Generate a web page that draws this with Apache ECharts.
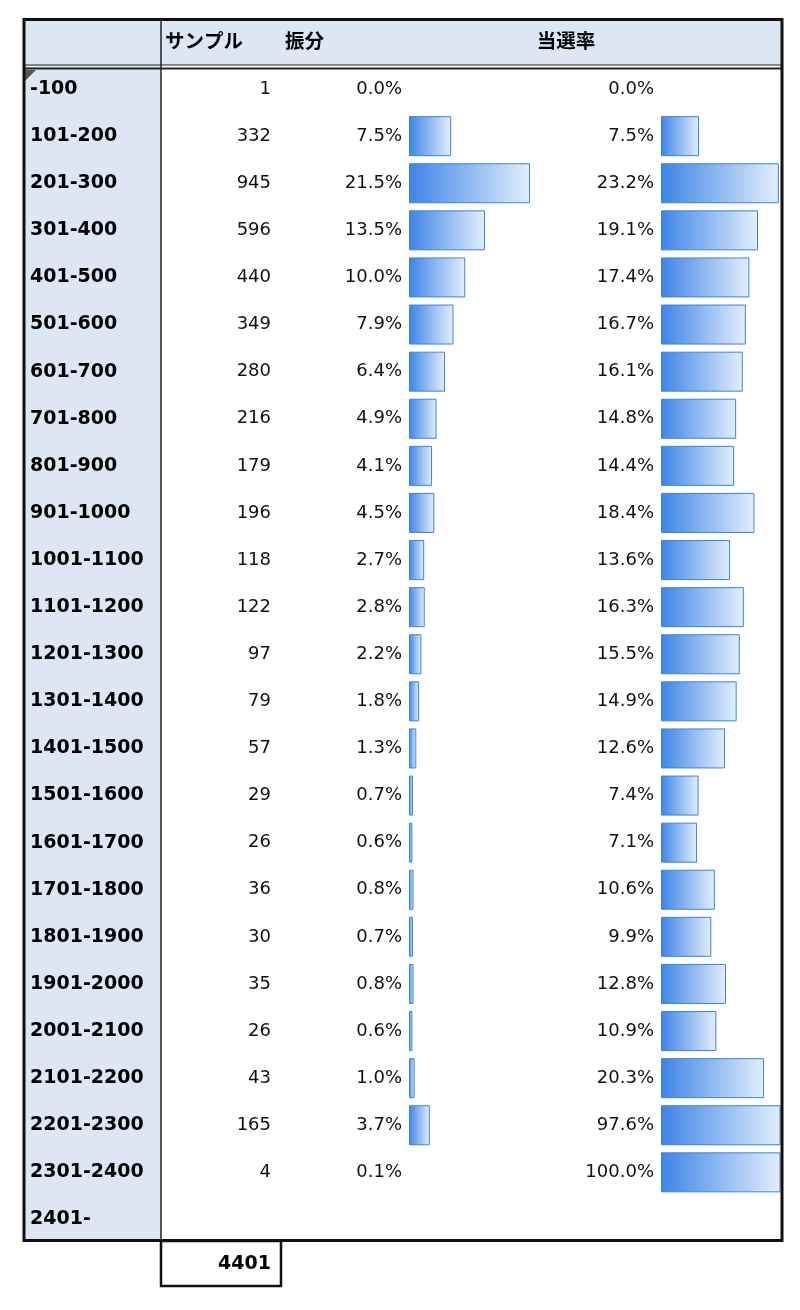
<!DOCTYPE html>
<html><head><meta charset="utf-8">
<script src="https://cdn.jsdelivr.net/npm/echarts@6/dist/echarts.min.js"></script>
<style>html,body{margin:0;padding:0;background:#fff}#c{width:800px;height:1310px}</style>
</head><body><div id="c"></div>
<script>
const ranges = ['-100','101-200','201-300','301-400','401-500','501-600','601-700','701-800','801-900','901-1000','1001-1100','1101-1200','1201-1300','1301-1400','1401-1500','1501-1600','1601-1700','1701-1800','1801-1900','1901-2000','2001-2100','2101-2200','2201-2300','2301-2400','2401-'];
const samples = [1,332,945,596,440,349,280,216,179,196,118,122,97,79,57,29,26,36,30,35,26,43,165,4,null];
const shareRate = [0.0,7.5,21.5,13.5,10.0,7.9,6.4,4.9,4.1,4.5,2.7,2.8,2.2,1.8,1.3,0.7,0.6,0.8,0.7,0.8,0.6,1.0,3.7,0.1,null];
const winRate = [0.0,7.5,23.2,19.1,17.4,16.7,16.1,14.8,14.4,18.4,13.6,16.3,15.5,14.9,12.6,7.4,7.1,10.6,9.9,12.8,10.9,20.3,97.6,100.0,null];
const headers = ['サンプル','振分','当選率'];
const total = 4401;

const FONT = '"DejaVu Sans","Noto Sans CJK JP",sans-serif';
const BG = '#dde7f4';
const grad = {type:'linear',x:0,y:0,x2:1,y2:0,colorStops:[{offset:0,color:'#3e84e6'},{offset:1,color:'#e2effc'}]};
function barData(arr){
  return arr.map(v => v === null ? null : (v < 0.2 ? {value:v,itemStyle:{borderWidth:0,color:'rgba(0,0,0,0)'}} : v));
}
const gridTop = 65.5, gridH = 1177.5;
const lbl = {show:true,position:'left',distance:7,fontFamily:FONT,fontSize:18,color:'#111',formatter:p=>p.value==null?'':p.value.toFixed(1)+'%'};
const chart = echarts.init(document.getElementById('c'));
chart.setOption({
  animation:false,
  textStyle:{fontFamily:FONT},
  grid:[
    {left:409, top:gridTop, width:121, height:gridH},
    {left:661, top:gridTop, width:119, height:gridH}
  ],
  xAxis:[
    {gridIndex:0,type:'value',min:0,max:21.5,show:false},
    {gridIndex:1,type:'value',min:0,max:23.43,show:false}
  ],
  yAxis:[
    {gridIndex:0,type:'category',inverse:true,data:ranges,axisLine:{show:false},axisTick:{show:false},splitLine:{show:false},
     axisLabel:{interval:0,align:'left',margin:379,fontFamily:FONT,fontSize:19,fontWeight:'bold',color:'#000'}},
    {gridIndex:0,type:'category',inverse:true,position:'left',data:samples.map(v=>v===null?'':String(v)),axisLine:{show:false},axisTick:{show:false},splitLine:{show:false},
     axisLabel:{interval:0,align:'right',margin:138,fontFamily:FONT,fontSize:18,color:'#111'}},
    {gridIndex:1,type:'category',inverse:true,data:ranges,show:false}
  ],
  series:[
    {type:'bar',xAxisIndex:0,yAxisIndex:0,data:barData(shareRate),barWidth:40,clip:true,
     itemStyle:{color:grad,borderColor:'#3b82e3',borderWidth:1},
     label:lbl},
    {type:'bar',xAxisIndex:1,yAxisIndex:2,data:barData(winRate),barWidth:40,clip:true,
     itemStyle:{color:grad,borderColor:'#3b82e3',borderWidth:1},
     label:lbl}
  ],
  graphic:[
    {type:'rect',z:-10,shape:{x:24,y:19,width:758,height:46},style:{fill:BG}},
    {type:'rect',z:-10,shape:{x:24,y:65,width:137,height:1175},style:{fill:BG}},
    {type:'polygon',z:50,shape:{points:[[25,70],[36,70],[25,81]]},style:{fill:'#555'}},
    {type:'line',z:50,shape:{x1:161,y1:19,x2:161,y2:1240},style:{stroke:'#222',lineWidth:1.5}},
    {type:'line',z:50,shape:{x1:24,y1:65,x2:782,y2:65},style:{stroke:'#222',lineWidth:1}},
    {type:'line',z:50,shape:{x1:24,y1:68.5,x2:782,y2:68.5},style:{stroke:'#222',lineWidth:2}},
    {type:'rect',z:50,shape:{x:24,y:19.5,width:758,height:1221},style:{fill:null,stroke:'#111',lineWidth:3}},
    {type:'rect',z:50,shape:{x:161,y:1241,width:120,height:45},style:{fill:null,stroke:'#111',lineWidth:2.5}},
    {type:'text',z:60,style:{x:165,y:43,text:headers[0],font:'bold 19.5px '+FONT,fill:'#000',textAlign:'left',textVerticalAlign:'middle'}},
    {type:'text',z:60,style:{x:285,y:43,text:headers[1],font:'bold 19.5px '+FONT,fill:'#000',textAlign:'left',textVerticalAlign:'middle'}},
    {type:'text',z:60,style:{x:566,y:43,text:headers[2],font:'bold 19.5px '+FONT,fill:'#000',textAlign:'center',textVerticalAlign:'middle'}},
    {type:'text',z:60,style:{x:271,y:1264,text:String(total),font:'bold 19px '+FONT,fill:'#000',textAlign:'right',textVerticalAlign:'middle'}}
  ]
});
</script></body></html>
